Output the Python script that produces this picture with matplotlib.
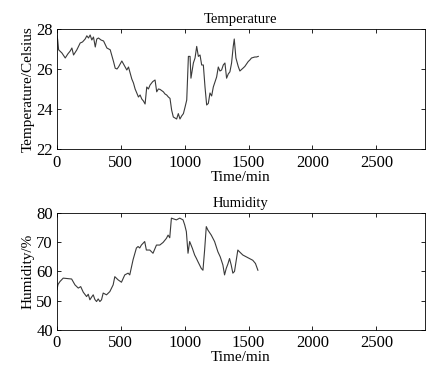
import matplotlib
matplotlib.use("Agg")
import matplotlib.pyplot as plt

plt.rcParams["font.family"] = ["Liberation Serif", "DejaVu Serif"]

# ── Temperature series (time in min, value in Celsius) ───────────────────────
temp_t = [0, 6, 13, 39, 65, 85, 104, 117, 130, 156, 182, 200, 221, 234, 247, 260,
          273, 286, 300, 312, 325, 345, 365, 391, 417, 443, 456, 470, 482, 508,
          521, 534, 547, 560, 573, 586, 599, 612, 625, 638, 651, 664, 677, 690,
          703, 716, 729, 750, 768, 781, 794, 807, 833, 846, 859, 872, 885, 898,
          911, 924, 937, 950, 963, 976, 990, 1003, 1016, 1029, 1042, 1049, 1068,
          1081, 1094, 1107, 1120, 1133, 1146, 1159, 1172, 1185, 1198, 1211,
          1224, 1250, 1263, 1276, 1289, 1302, 1315, 1328, 1341, 1354, 1367,
          1380, 1388, 1401, 1419, 1432, 1458, 1471, 1497, 1510, 1523, 1549,
          1562, 1576]
temp_v = [27.7, 27.45, 26.96, 26.8, 26.55, 26.75, 26.9, 27.05, 26.7, 26.96,
          27.3, 27.35, 27.5, 27.66, 27.55, 27.7, 27.45, 27.6, 27.1, 27.5, 27.55,
          27.45, 27.4, 27.05, 26.96, 26.37, 26.04, 26.0, 26.1, 26.4, 26.25,
          26.1, 25.95, 26.1, 25.8, 25.5, 25.3, 25.0, 24.8, 24.6, 24.7, 24.5,
          24.4, 24.25, 25.1, 25.0, 25.2, 25.37, 25.45, 24.86, 25.0, 24.98, 24.86,
          24.75, 24.7, 24.6, 24.53, 23.94, 23.6, 23.55, 23.5, 23.77, 23.5,
          23.65, 23.77, 24.1, 24.45, 26.63, 26.63, 25.54, 26.3, 26.55, 27.13,
          26.63, 26.7, 26.2, 26.2, 25.1, 24.2, 24.28, 24.8, 24.65, 25.1, 25.6,
          26.1, 25.9, 25.95, 26.2, 26.3, 25.54, 25.75, 25.86, 26.3, 27.13,
          27.5, 26.55, 26.13, 25.9, 26.05, 26.13, 26.37, 26.45, 26.55, 26.6,
          26.6, 26.63]

# ── Humidity series (time in min, value in %) ────────────────────────────────
hum_t = [0, 8, 23, 49, 115, 141, 167, 186, 206, 232, 245, 258, 271, 284, 297,
         310, 323, 336, 349, 362, 388, 414, 440, 453, 479, 505, 531, 557, 570,
         596, 622, 635, 648, 661, 687, 700, 727, 752, 779, 805, 831, 857, 870,
         883, 896, 935, 961, 987, 1000, 1013, 1026, 1039, 1060, 1078, 1091,
         1104, 1130, 1143, 1156, 1169, 1182, 1208, 1234, 1260, 1278, 1299,
         1312, 1325, 1338, 1351, 1364, 1377, 1390, 1416, 1429, 1455, 1481,
         1507, 1533, 1554, 1573]
hum_v = [53.7, 55.5, 56.5, 57.7, 57.4, 55.4, 54.3, 54.8, 52.9, 51.4, 52.2, 50.3,
         51.2, 52.0, 50.4, 49.7, 50.6, 49.7, 50.3, 52.6, 52.0, 53.1, 55.4,
         58.2, 57.1, 56.3, 58.8, 59.4, 58.8, 64.0, 68.0, 68.5, 68.0, 69.0,
         70.2, 67.3, 67.3, 66.2, 69.0, 69.0, 69.9, 71.3, 72.4, 71.5, 78.2, 77.6,
         78.2, 77.6, 75.9, 73.6, 66.2, 70.2, 67.9, 65.6, 64.5, 63.3, 61.0,
         60.4, 67.3, 75.3, 74.1, 72.4, 70.2, 66.7, 65.0, 62.2, 58.8, 61.0,
         62.5, 64.4, 62.2, 59.4, 60.0, 67.3, 66.7, 65.6, 65.0, 64.4, 63.8,
         62.7, 60.4]

x_ticks = [0, 500, 1000, 1500, 2000, 2500]
temp_ticks = [22, 24, 26, 28]
hum_ticks = [40, 50, 60, 70, 80]

TICK_FS = 12
LABEL_FS = 11
LINE = "#3a3a3a"

fig = plt.figure(figsize=(4.38, 3.67), dpi=100)
ax1 = fig.add_axes([0.130, 0.594, 0.840, 0.327])
ax2 = fig.add_axes([0.130, 0.101, 0.840, 0.319])

panels = [
    (ax1, temp_t, temp_v, temp_ticks, "Temperature", "Temperature/Celsius"),
    (ax2, hum_t, hum_v, hum_ticks, "Humidity", "Humidity/%"),
]
for ax, t, v, yt, title, ylabel in panels:
    ax.plot(t, v, color=LINE, lw=0.8)
    ax.set_xlim(0, 2880)
    ax.set_ylim(yt[0], yt[-1])
    ax.set_xticks(x_ticks)
    ax.set_yticks(yt)
    ax.tick_params(direction="in", top=True, right=True, labelsize=TICK_FS,
                   length=3, width=0.6)
    ax.tick_params(axis="x", pad=4)
    ax.tick_params(axis="y", pad=3)
    for s in ax.spines.values():
        s.set_linewidth(0.6)
    ax.set_title(title, fontsize=LABEL_FS - 0.5, pad=4)
    ax.set_xlabel("Time/min", fontsize=LABEL_FS, labelpad=0)
    ax.set_ylabel(ylabel, fontsize=LABEL_FS, labelpad=1)

fig.savefig("out.png", dpi=100)
